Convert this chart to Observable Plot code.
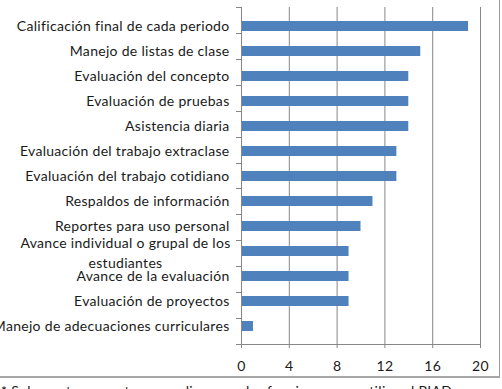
<!DOCTYPE html>
<html>
<head>
<meta charset="utf-8">
<script src="https://cdn.jsdelivr.net/npm/d3@7"></script>
<script src="https://cdn.jsdelivr.net/npm/@observablehq/plot@0.6"></script>
<style>
  html, body { margin: 0; padding: 0; background: #fff; overflow: hidden; }
  #wrap { position: relative; width: 502px; height: 389px; font-family: Lato, "Liberation Sans", sans-serif; }
  #box { position: absolute; left: -10px; top: -10px; width: 509px; height: 386px;
         border-right: 1.5px solid #9a9a9a; border-bottom: 2px solid #a6a6a6; }
  #chart { position: absolute; left: 0; top: 0; }
  #note { position: absolute; left: 1px; top: 383px; font-size: 14px; letter-spacing: 0.3px;
          line-height: 16px; white-space: nowrap; color: #1a1a1a; }
</style>
</head>
<body>
<div id="wrap">
  <div id="box"></div>
  <div id="chart"></div>
  <div id="note">* Sobre estos reportes se realizan con las funciones que utiliza el PIAD</div>
</div>
<script>
// Uses of the gradebook tool, in display order (top to bottom)
const categories = [
  "Calificación final de cada periodo",
  "Manejo de listas de clase",
  "Evaluación del concepto",
  "Evaluación de pruebas",
  "Asistencia diaria",
  "Evaluación del trabajo extraclase",
  "Evaluación del trabajo cotidiano",
  "Respaldos de información",
  "Reportes para uso personal",
  "Avance individual o grupal de los estudiantes",
  "Avance de la evaluación",
  "Evaluación de proyectos",
  "Manejo de adecuaciones curriculares"
];
const values = [19, 15, 14, 14, 14, 13, 13, 11, 10, 9, 9, 9, 1];
const xTicks = [0, 4, 8, 12, 16, 20];

// Label that wraps onto two centered lines
const wrapped = "Avance individual o grupal de los estudiantes";
const wrappedText = "Avance individual o grupal de los\nestudiantes";

const data = categories.map((c, i) => ({category: c, value: values[i]}));

const gray = "#878787";
const blue = "#4F81BD";
const font = "Lato, 'Liberation Sans', sans-serif";

// Axis lines plus the category boundary ticks on the left axis
const axisLines = (index, scales, values, dims) => {
  const {width, height, marginTop, marginLeft, marginRight, marginBottom} = dims;
  const n = categories.length;
  const top = marginTop, bottom = height - marginBottom;
  const step = (bottom - top) / n;
  const g = d3.create("svg:g").attr("stroke", gray).attr("stroke-width", 1).attr("fill", "none");
  g.append("line").attr("x1", marginLeft).attr("x2", width - marginRight)
    .attr("y1", bottom + 0.5).attr("y2", bottom + 0.5);
  g.append("line").attr("x1", marginLeft + 0.5).attr("x2", marginLeft + 0.5)
    .attr("y1", top).attr("y2", bottom + 4);
  for (let i = 0; i <= n; i++) {
    const y = Math.round(top + i * step) + 0.5;
    g.append("line").attr("x1", marginLeft - 5).attr("x2", marginLeft).attr("y1", y).attr("y2", y);
  }
  return g.node();
};

const plot = Plot.plot({
  width: 502,
  height: 378,
  marginLeft: 241,
  marginRight: 22,
  marginTop: 7,
  marginBottom: 34,
  style: {fontFamily: font, fontSize: "14px", letterSpacing: "0.3px", color: "#1a1a1a", background: "transparent"},
  x: {domain: [0, 20], ticks: xTicks},
  y: {domain: categories, paddingInner: 0.6, paddingOuter: 0.3, align: 0.5},
  marks: [
    Plot.gridX(xTicks, {stroke: gray, strokeOpacity: 1}),
    Plot.barX(data, {x: "value", y: "category", fill: blue}),
    axisLines,
    Plot.axisX(xTicks, {tickSize: 4, stroke: gray, strokeOpacity: 1, tickPadding: 13,
      fontSize: 14, fill: "#1a1a1a", label: null}),
    Plot.axisY({tickSize: 0, tickPadding: 12, label: null, fontSize: 14,
      fill: "#1a1a1a", tickFormat: d => d === wrapped ? "" : d}),
    Plot.text([wrapped], {y: d => d, x: 0, text: () => wrappedText, dx: -116,
      textAnchor: "middle", lineHeight: 1.4, fontSize: 14, fill: "#1a1a1a"})
  ]
});
document.getElementById("chart").appendChild(plot);
</script>
</body>
</html>
